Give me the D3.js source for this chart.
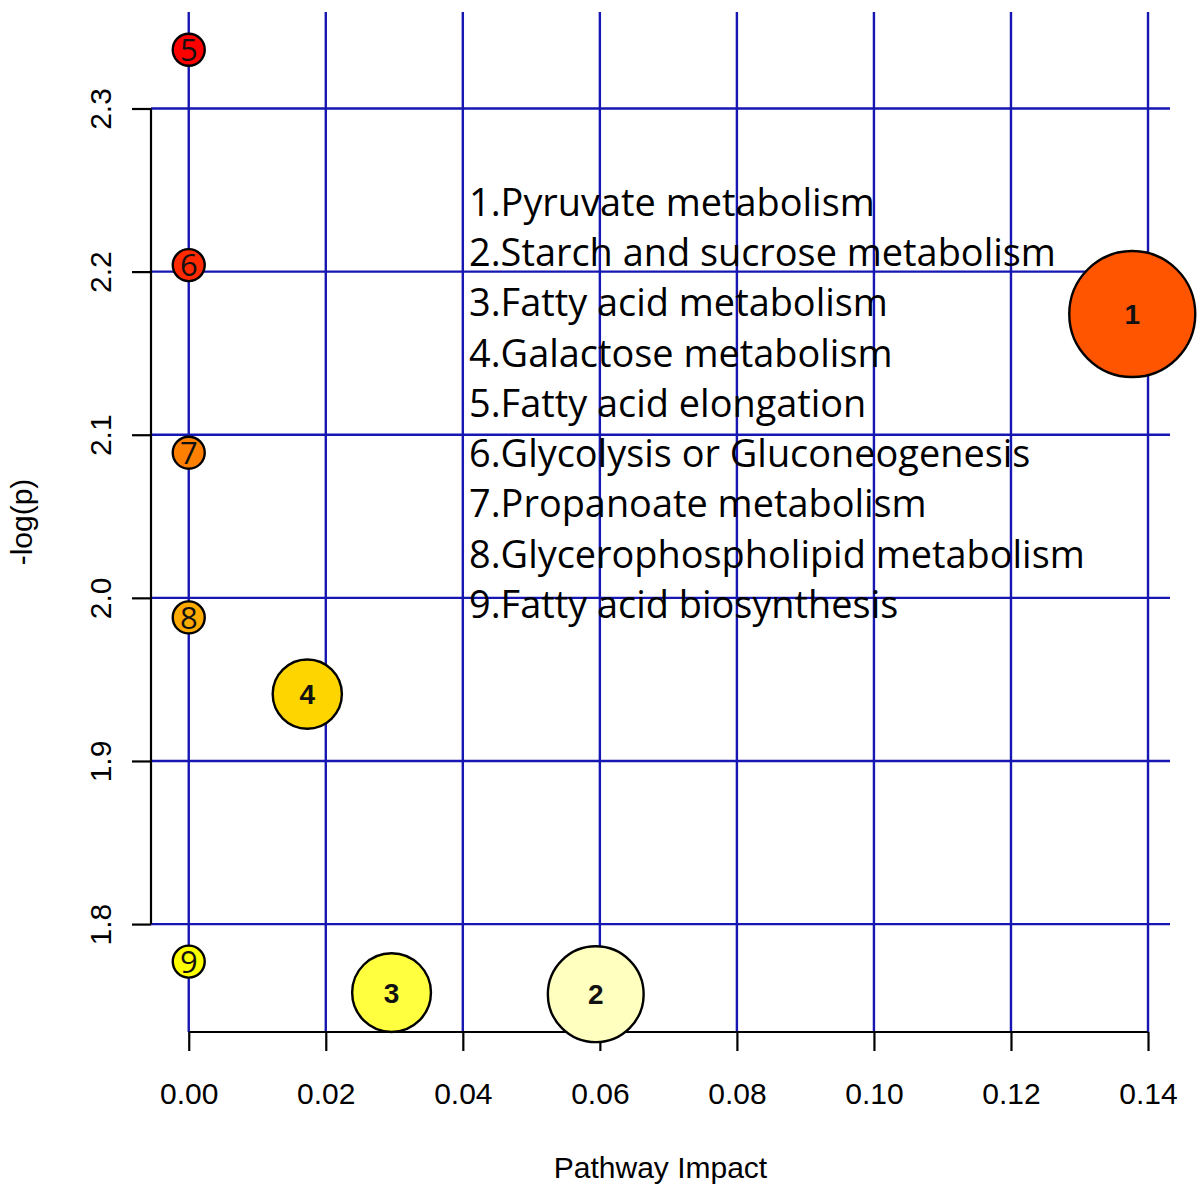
<!DOCTYPE html>
<meta charset="utf-8">
<style>
body{margin:0;background:#fff;}
svg{display:block}
</style>
<svg id="chart" width="1200" height="1186"></svg>
<script src="https://d3js.org/d3.v7.min.js"></script>
<script>
// pathway analysis bubble plot: impact vs -log(p)
const pathways = [
  "Pyruvate metabolism",
  "Starch and sucrose metabolism",
  "Fatty acid metabolism",
  "Galactose metabolism",
  "Fatty acid elongation",
  "Glycolysis or Gluconeogenesis",
  "Propanoate metabolism",
  "Glycerophospholipid metabolism",
  "Fatty acid biosynthesis"
]
const impact = [0.1377, 0.0594, 0.0296, 0.0173, 0, 0, 0, 0, 0]
const negLogP = [2.174, 1.757, 1.758, 1.941, 2.336, 2.204, 2.089, 1.988, 1.777]
const xTicks = [0, 0.02, 0.04, 0.06, 0.08, 0.10, 0.12, 0.14]
const yTicks = [1.8, 1.9, 2.0, 2.1, 2.2, 2.3]
// heat.colors(9), hottest for largest -log(p)
const heatColors = ["#FF0000", "#FF2A00", "#FF5500", "#FF8000", "#FFAA00",
  "#FFD500", "#FFFF00", "#FFFF40", "#FFFFBF"]

const svg = d3.select('#chart')
svg.append('rect').attr('width', 1200).attr('height', 1186).attr('fill', '#fff')

// plot region, R style 4% padding on the data range
const plot = {left: 151, right: 1170, top: 12, bottom: 1032}
const pad = ext => { const p = (ext[1] - ext[0]) * 0.04; return [ext[0] - p, ext[1] + p] }

const x = d3.scaleLinear().domain(pad(d3.extent(impact))).range([plot.left, plot.right])
const y = d3.scaleLinear().domain(pad(d3.extent(negLogP))).range([plot.bottom, plot.top])
const rBig = d3.scaleSqrt().domain([0, d3.max(impact)]).range([19, 63])
const radius = v => v > 0 ? rBig(v) : 16

// colour by rank of -log(p)
const order = d3.range(pathways.length).sort((a, b) => negLogP[b] - negLogP[a])
const colorOf = []
order.forEach((idx, rank) => colorOf[idx] = heatColors[rank])

const gridColor = '#1616b2'

// grid
svg.append('g').selectAll('line').data(xTicks).join('line')
  .attr('x1', d => x(d)).attr('x2', d => x(d))
  .attr('y1', plot.top).attr('y2', plot.bottom)
  .attr('stroke', gridColor).attr('stroke-width', 2.4)
svg.append('g').selectAll('line').data(yTicks).join('line')
  .attr('x1', plot.left).attr('x2', plot.right)
  .attr('y1', d => y(d)).attr('y2', d => y(d))
  .attr('stroke', gridColor).attr('stroke-width', 2.4)

// axes
const xAxis = svg.append('g')
  .attr('transform', `translate(0,${plot.bottom})`)
  .call(d3.axisBottom(x).tickValues(xTicks).tickFormat(d3.format('.2f'))
    .tickSizeOuter(0).tickSize(19).tickPadding(32))
const yAxis = svg.append('g')
  .attr('transform', `translate(${plot.left},0)`)
  .call(d3.axisLeft(y).tickValues(yTicks).tickFormat(d3.format('.1f'))
    .tickSizeOuter(0).tickSize(19))

;[xAxis, yAxis].forEach(g => {
  g.selectAll('path, line').attr('stroke', '#000').attr('stroke-width', 2.2)
  g.selectAll('text').attr('fill', '#000')
    .style('font', '30px "Liberation Sans", Arial, sans-serif')
})
// R draws the axis line only between first and last tick
xAxis.select('path.domain').attr('d', `M${x(xTicks[0])},0H${x(xTicks[xTicks.length - 1])}`)
yAxis.select('path.domain').attr('d', `M0,${y(yTicks[0])}V${y(yTicks[yTicks.length - 1])}`)
// rotated y labels (las = 0)
yAxis.selectAll('.tick text')
  .attr('x', null).attr('dy', null)
  .attr('text-anchor', 'middle')
  .attr('transform', 'translate(-40,0) rotate(-90)')

// axis titles
svg.append('text')
  .attr('x', (plot.left + plot.right) / 2).attr('y', 1178)
  .attr('text-anchor', 'middle')
  .style('font', '30px "Liberation Sans", Arial, sans-serif')
  .text('Pathway Impact')
svg.append('text')
  .attr('transform', `translate(32,${(plot.top + plot.bottom) / 2}) rotate(-90)`)
  .attr('text-anchor', 'middle')
  .style('font', '30px "Liberation Sans", Arial, sans-serif')
  .text('-log(p)')

// bubbles
const nodes = svg.append('g').selectAll('g').data(d3.range(pathways.length)).join('g')
  .attr('transform', i => `translate(${x(impact[i])},${y(negLogP[i])})`)
nodes.append('circle')
  .attr('r', i => radius(impact[i]))
  .attr('fill', i => colorOf[i])
  .attr('stroke', '#000').attr('stroke-width', 2.4)
nodes.append('text')
  .attr('text-anchor', 'middle')
  .attr('dy', '0.36em')
  .style('font', i => impact[i] > 0
    ? 'bold 28px "Liberation Sans", Arial, sans-serif'
    : '31px "Open Sans", sans-serif')
  .attr('fill', '#111')
  .text(i => i + 1)

// legend of pathway names
const legend = svg.append('g')
const legendText = legend.selectAll('text').data(pathways).join('text')
  .attr('x', 0).attr('y', (d, i) => i * 50.25)
  .style('font', '39px "Open Sans", sans-serif')
  .attr('fill', '#000')
  .text((d, i) => `${i + 1}.${d}`)
const widest = d3.max(legendText.nodes(), n => n.getComputedTextLength())
legend.attr('transform', `translate(469,216) scale(${616 / widest},1)`)
</script>
